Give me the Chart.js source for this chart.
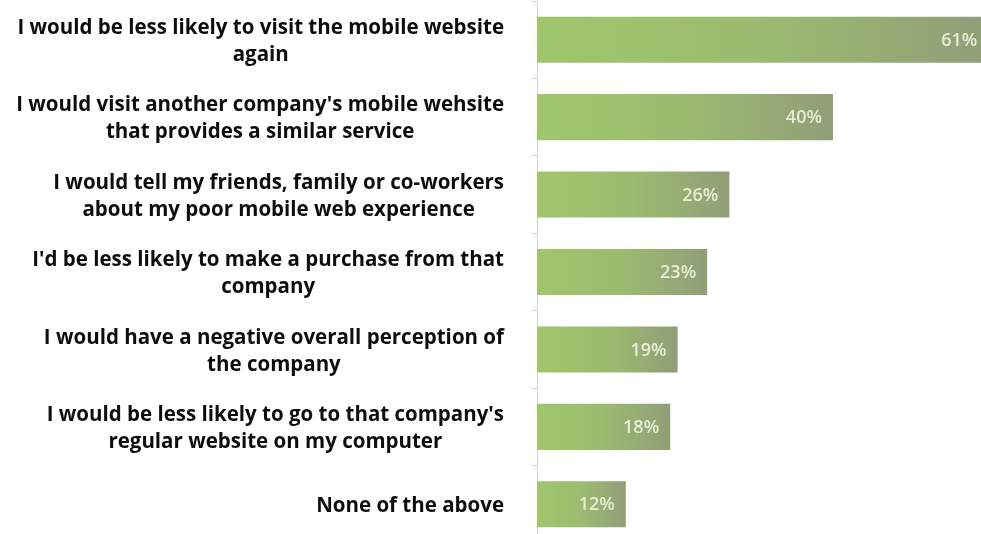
<!DOCTYPE html>
<html>
<head>
<meta charset="utf-8">
<script src="https://cdn.jsdelivr.net/npm/chart.js@4/dist/chart.umd.min.js"></script>
<style>
  html, body { margin: 0; padding: 0; background: #fff; overflow: hidden; }
  #wrap { width: 981px; height: 543px; }
</style>
</head>
<body>
<div id="wrap"><canvas id="c" width="981" height="543"></canvas></div>
<script>
// ---- data ----
const answers = [
  ["I would be less likely to visit the mobile website", "again"],
  ["I would visit another company's mobile wehsite", "that provides a similar service"],
  ["I would tell my friends, family or co-workers", "about my poor mobile web experience"],
  ["I'd be less likely to make a purchase from that", "company"],
  ["I would have a negative overall perception of", "the company"],
  ["I would be less likely to go to that company's", "regular website on my computer"],
  ["None of the above"]
];
const shares = [61, 40, 26, 23, 19, 18, 12];
const shareLabels = ["61%", "40%", "26%", "23%", "19%", "18%", "12%"];

const LABEL_FONT = "bold 20.5px 'Open Sans', Lato, sans-serif";
const LINE_H = 27;

// per-bar horizontal gradient: light green at the axis, greyish olive at the tip
function barFill(ctx){
  const chart = ctx.chart;
  if(!chart.chartArea) return '#9bbd6c';
  const x = chart.scales.x;
  const x0 = x.getPixelForValue(0);
  const x1 = x.getPixelForValue(shares[ctx.dataIndex]);
  const g = chart.ctx.createLinearGradient(x0, 0, x1, 0);
  g.addColorStop(0, '#a0c66c');
  g.addColorStop(0.5, '#9bbb70');
  g.addColorStop(1, '#919e78');
  return g;
}

// ---- category text (right-aligned block, lines centred inside it) ----
const answerText = {
  id: 'answerText',
  afterDraw(chart){
    const c = chart.ctx, y = chart.scales.y;
    const right = y.right - 33;
    c.save();
    c.font = LABEL_FONT;
    c.fillStyle = '#0d0d0d';
    c.textAlign = 'center';
    c.textBaseline = 'middle';
    answers.forEach((lines, i) => {
      const w = Math.max(...lines.map(l => c.measureText(l).width));
      const cx = right - w / 2;
      const cy = y.getPixelForValue(i) + 2;
      lines.forEach((l, k) => {
        c.fillText(l, cx, cy + (k - (lines.length - 1) / 2) * LINE_H);
      });
    });
    c.restore();
  }
};

// ---- value text inside the bars ----
const valueText = {
  id: 'valueText',
  afterDatasetsDraw(chart){
    const c = chart.ctx, x = chart.scales.x, y = chart.scales.y;
    c.save();
    c.font = "600 18px 'Open Sans', Lato, sans-serif";
    c.fillStyle = '#e8ecd6';
    c.textAlign = 'right';
    c.textBaseline = 'middle';
    shares.forEach((v, i) => {
      c.fillText(shareLabels[i], x.getPixelForValue(v) - 11, y.getPixelForValue(i) + 1);
    });
    c.restore();
  }
};

new Chart(document.getElementById('c'), {
  type: 'bar',
  data: {
    labels: answers,
    datasets: [{
      data: shares,
      backgroundColor: barFill,
      borderWidth: 0,
      barPercentage: 0.595,
      categoryPercentage: 1
    }]
  },
  options: {
    indexAxis: 'y',
    responsive: false,
    devicePixelRatio: 1,
    animation: false,
    layout: { padding: { top: 1, right: 0, bottom: 0, left: 0 } },
    plugins: { legend: { display: false }, tooltip: { enabled: false } },
    scales: {
      x: { display: false, min: 0, max: 60 },
      y: {
        position: 'left',
        offset: true,
        ticks: { display: false },
        grid: { offset: true, drawOnChartArea: false, drawTicks: true, tickLength: 5, color: '#d4d4d4' },
        border: { display: true, color: '#d4d4d4', width: 1 },
        afterFit(scale){ scale.width = 537; }
      }
    }
  },
  plugins: [answerText, valueText]
});
</script>
</body>
</html>
